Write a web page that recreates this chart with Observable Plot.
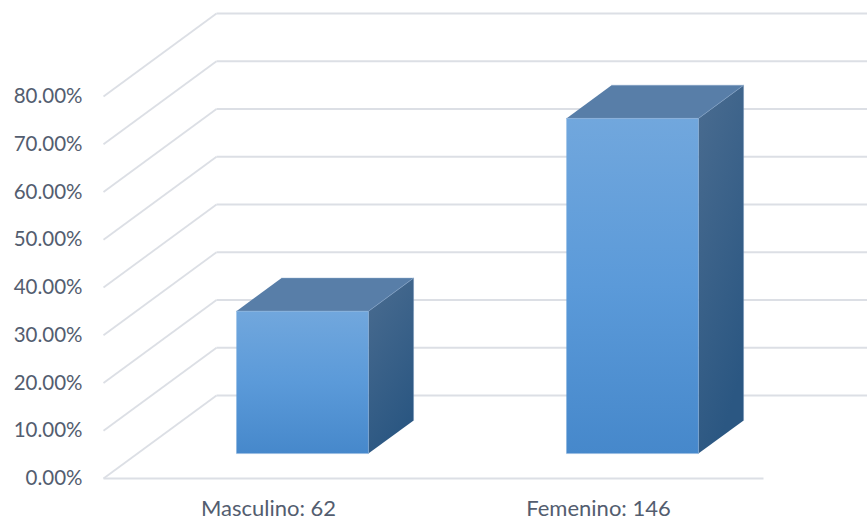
<!DOCTYPE html>
<html>
<head>
<meta charset="utf-8">
<script src="https://cdn.jsdelivr.net/npm/d3@7"></script>
<script src="https://cdn.jsdelivr.net/npm/@observablehq/plot@0.6"></script>
<style>
  html, body { margin: 0; padding: 0; background: white; overflow: hidden; }
</style>
</head>
<body>
<div id="chart"></div>
<script>
// ---- data ----
const categories = ["Masculino", "Femenino"];
const counts = [62, 146];
const yTicks = [0, 0.1, 0.2, 0.3, 0.4, 0.5, 0.6, 0.7, 0.8];

const total = d3.sum(counts);
const shares = counts.map(c => c / total);

// ---- layout (pixels) ----
const W = 867, H = 523;
const mL = 103, mR = 104, mT = 96, mB = 45;
const xDomain = [0, categories.length];
const yDomain = [0, 0.8];
const depthPx = [113, -83]; // oblique offset of the full floor depth

// convert depth (0..1) into data units through the scale extents
const ux = depthPx[0] * (xDomain[1] - xDomain[0]) / (W - mL - mR);
const uy = -depthPx[1] * (yDomain[1] - yDomain[0]) / (H - mT - mB);
const P = (x, y, d) => ({x: x + d * ux, y: y + d * uy});

// walls
const wallDiag = yTicks.map(t => ({a: P(0, t, 0), b: P(0, t, 1)}));
const wallBack = yTicks.map(t => ({a: P(0, t, 1), b: P(xDomain[1], t, 1)}));
const floorFront = [{a: P(0, 0, 0), b: P(xDomain[1], 0, 0)}];

// bar faces (band 0.3..0.7, depth 0.3..0.7)
const b0 = 0.3, b1 = 0.7, d0 = 0.3, d1 = 0.7;
const faceFront = [], faceTop = [], faceSide = [];
categories.forEach((c, i) => {
  const v = shares[i];
  [P(i + b0, 0, d0), P(i + b1, 0, d0), P(i + b1, v, d0), P(i + b0, v, d0)]
    .forEach(p => faceFront.push({id: c, ...p}));
  [P(i + b0, v, d0), P(i + b1, v, d0), P(i + b1, v, d1), P(i + b0, v, d1)]
    .forEach(p => faceTop.push({id: c, ...p}));
  [P(i + b1, 0, d0), P(i + b1, v, d0), P(i + b1, v, d1), P(i + b1, 0, d1)]
    .forEach(p => faceSide.push({id: c, ...p}));
});

const grid = "#dcdfe5";
const textColor = "#535d6f";

const svg = Plot.plot({
  width: W, height: H,
  marginLeft: mL, marginRight: mR, marginTop: mT, marginBottom: mB,
  x: {domain: xDomain, label: null},
  y: {domain: yDomain, label: null},
  style: {fontFamily: "Lato, 'Open Sans', sans-serif", fontSize: "20px", color: textColor, background: "white"},
  marks: [
    Plot.link(wallDiag, {x1: d => d.a.x, y1: d => d.a.y, x2: d => d.b.x, y2: d => d.b.y, stroke: grid, strokeWidth: 1.8}),
    Plot.link(wallBack, {x1: d => d.a.x, y1: d => d.a.y, x2: d => d.b.x, y2: d => d.b.y, stroke: grid, strokeWidth: 1.8}),
    Plot.link(floorFront, {x1: d => d.a.x, y1: d => d.a.y, x2: d => d.b.x, y2: d => d.b.y, stroke: grid, strokeWidth: 1.8}),
    Plot.line(faceSide, {x: "x", y: "y", z: "id", fill: "url(#gSide)", stroke: "#7a9cc0", strokeOpacity: 0.35, strokeWidth: 1}),
    Plot.line(faceTop, {x: "x", y: "y", z: "id", fill: "#587ea8", stroke: "#8aa9cc", strokeOpacity: 0.45, strokeWidth: 1}),
    Plot.line(faceFront, {x: "x", y: "y", z: "id", fill: "url(#gFront)", stroke: "#8db5e0", strokeOpacity: 0.45, strokeWidth: 1}),
    Plot.axisY({ticks: yTicks, tickSize: 0, tickPadding: 21, tickFormat: d => (d * 100).toFixed(2) + "%", fontSize: 20.5, fill: textColor}),
    Plot.axisX({ticks: categories.map((c, i) => i + 0.5), tickSize: 0, tickPadding: 22,
      tickFormat: d => `${categories[Math.floor(d)]}: ${counts[Math.floor(d)]}`, fontSize: 22, fill: textColor})
  ]
});

const defs = d3.select(svg).insert("defs", ":first-child");
const gF = defs.append("linearGradient").attr("id", "gFront").attr("x1", 0).attr("y1", 0).attr("x2", 0).attr("y2", 1);
gF.append("stop").attr("offset", "0%").attr("stop-color", "#71a7dd");
gF.append("stop").attr("offset", "50%").attr("stop-color", "#5b9ad9");
gF.append("stop").attr("offset", "100%").attr("stop-color", "#4688cb");
const gS = defs.append("linearGradient").attr("id", "gSide").attr("x1", 0).attr("y1", 0).attr("x2", 0.4).attr("y2", 1);
gS.append("stop").attr("offset", "0%").attr("stop-color", "#4a6c90");
gS.append("stop").attr("offset", "100%").attr("stop-color", "#2b5782");

document.getElementById("chart").appendChild(svg);
</script>
</body>
</html>
